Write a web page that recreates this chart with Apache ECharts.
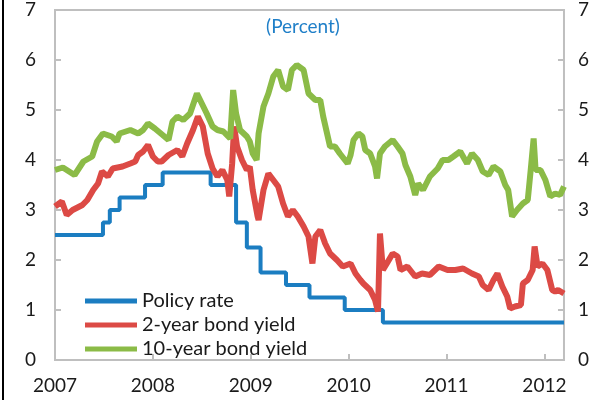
<!DOCTYPE html>
<html>
<head>
<meta charset="utf-8">
<script src="https://cdn.jsdelivr.net/npm/echarts@6/dist/echarts.min.js"></script>
<style>
  html, body { margin: 0; padding: 0; background: #fff; }
  #chart { width: 592px; height: 400px; }
</style>
</head>
<body>
<div id="chart"></div>
<script>
// decimal years + values
const policyYears = [2007.00, 2007.49, 2007.56, 2007.66, 2007.92, 2008.10, 2008.59, 2008.85, 2008.96, 2009.10, 2009.36, 2009.60, 2009.96, 2010.35, 2012.20];
const policyRate  = [2.5, 2.75, 3.0, 3.25, 3.5, 3.75, 3.5, 2.75, 2.25, 1.75, 1.5, 1.25, 1.0, 0.75, 0.75];

const twoYears = [2007.00, 2007.07, 2007.12, 2007.18, 2007.28, 2007.33, 2007.39, 2007.44, 2007.48, 2007.54,
  2007.59, 2007.69, 2007.77, 2007.82, 2007.85, 2007.90, 2007.95, 2007.97, 2008.00, 2008.05,
  2008.09, 2008.16, 2008.25, 2008.30, 2008.35, 2008.41, 2008.46, 2008.51, 2008.56, 2008.61,
  2008.66, 2008.71, 2008.76, 2008.78, 2008.81, 2008.83, 2008.86, 2008.91, 2008.96, 2008.99,
  2009.02, 2009.07, 2009.08, 2009.13, 2009.18, 2009.23, 2009.28, 2009.33, 2009.38, 2009.43,
  2009.48, 2009.54, 2009.59, 2009.63, 2009.66, 2009.71, 2009.76, 2009.81, 2009.88, 2009.94,
  2010.02, 2010.07, 2010.12, 2010.15, 2010.22, 2010.27, 2010.30, 2010.32, 2010.35, 2010.39,
  2010.45, 2010.50, 2010.53, 2010.60, 2010.68, 2010.75, 2010.83, 2010.92, 2011.01, 2011.09,
  2011.17, 2011.26, 2011.33, 2011.37, 2011.43, 2011.48, 2011.52, 2011.57, 2011.62, 2011.65,
  2011.70, 2011.76, 2011.78, 2011.83, 2011.88, 2011.90, 2011.93, 2011.98, 2012.03, 2012.08,
  2012.11, 2012.14, 2012.20];
const twoYield = [3.07, 3.17, 2.9, 3.0, 3.1, 3.2, 3.4, 3.53, 3.77, 3.67,
  3.83, 3.87, 3.93, 3.97, 4.1, 4.17, 4.3, 4.33, 4.07, 3.97,
  3.97, 4.1, 4.2, 4.07, 4.33, 4.6, 4.87, 4.67, 4.13, 3.83,
  3.67, 3.8, 3.6, 3.27, 3.93, 4.67, 4.27, 4.0, 3.8, 3.87,
  3.4, 2.87, 2.8, 3.4, 3.73, 3.6, 3.47, 3.13, 2.87, 3.0,
  2.87, 2.67, 2.47, 1.93, 2.47, 2.6, 2.33, 2.13, 2.0, 1.87,
  1.93, 1.73, 1.6, 1.53, 1.4, 1.2, 0.97, 2.53, 1.8, 1.93,
  2.13, 2.07, 1.8, 1.87, 1.67, 1.73, 1.7, 1.87, 1.8, 1.8,
  1.83, 1.73, 1.67, 1.5, 1.4, 1.6, 1.73, 1.47, 1.27, 1.03,
  1.07, 1.1, 1.53, 1.6, 1.8, 2.27, 1.87, 1.93, 1.8, 1.4,
  1.37, 1.4, 1.33];

const tenYears = [2007.00, 2007.08, 2007.20, 2007.29, 2007.38, 2007.43, 2007.49, 2007.58, 2007.63, 2007.66,
  2007.77, 2007.85, 2007.90, 2007.95, 2008.02, 2008.04, 2008.10, 2008.16, 2008.20, 2008.25,
  2008.31, 2008.38, 2008.45, 2008.50, 2008.55, 2008.61, 2008.66, 2008.72, 2008.79, 2008.82,
  2008.85, 2008.89, 2008.96, 2008.99, 2009.02, 2009.06, 2009.08, 2009.13, 2009.18, 2009.23,
  2009.28, 2009.33, 2009.38, 2009.42, 2009.47, 2009.54, 2009.59, 2009.66, 2009.71, 2009.74,
  2009.81, 2009.86, 2009.91, 2009.99, 2010.02, 2010.05, 2010.10, 2010.14, 2010.17, 2010.22,
  2010.27, 2010.29, 2010.32, 2010.37, 2010.45, 2010.50, 2010.55, 2010.58, 2010.63, 2010.68,
  2010.71, 2010.76, 2010.83, 2010.91, 2010.96, 2011.02, 2011.07, 2011.14, 2011.21, 2011.26,
  2011.32, 2011.37, 2011.43, 2011.48, 2011.55, 2011.60, 2011.63, 2011.67, 2011.72, 2011.78,
  2011.83, 2011.86, 2011.89, 2011.91, 2011.96, 2012.01, 2012.06, 2012.11, 2012.16, 2012.20];
const tenYield = [3.8, 3.85, 3.7, 3.97, 4.07, 4.37, 4.53, 4.47, 4.37, 4.53,
  4.6, 4.53, 4.6, 4.73, 4.63, 4.6, 4.5, 4.4, 4.77, 4.87,
  4.8, 4.93, 5.33, 5.13, 4.93, 4.67, 4.6, 4.57, 4.43, 5.4,
  4.93, 4.6, 4.47, 4.37, 4.13, 4.0, 4.53, 5.07, 5.33, 5.67,
  5.8, 5.47, 5.4, 5.8, 5.9, 5.8, 5.33, 5.2, 5.2, 4.87,
  4.27, 4.27, 4.13, 3.93, 4.1, 4.4, 4.53, 4.47, 4.2, 4.13,
  3.87, 3.63, 4.13, 4.27, 4.4, 4.27, 4.13, 3.9, 3.67, 3.3,
  3.53, 3.4, 3.67, 3.83, 4.0, 4.0, 4.07, 4.17, 3.93, 4.13,
  4.0, 3.77, 3.7, 3.87, 3.77, 3.5, 3.4, 2.87, 3.0, 3.13,
  3.2, 3.8, 4.43, 3.8, 3.8, 3.6, 3.27, 3.33, 3.3, 3.47];

const yTicks = [0, 1, 2, 3, 4, 5, 6, 7];

const pair = (xs, ys) => xs.map((x, i) => [x, ys[i]]);

const chart = echarts.init(document.getElementById('chart'));
const font = 'Lato, "Noto Sans", sans-serif';
const gridGray = '#bfbfbf';

const yAxisCommon = {
  type: 'value',
  min: yTicks[0],
  max: yTicks[yTicks.length - 1],
  interval: 1,
  splitLine: { show: false },
  axisLine: { show: false },
  axisTick: { show: true, inside: true, length: 6, lineStyle: { color: gridGray, width: 2 } },
  axisLabel: { color: '#1a1a1a', fontSize: 19, fontFamily: font }
};

chart.setOption({
  animation: false,
  grid: {
    left: 55, right: 28, top: 10, bottom: 40,
    show: true, borderColor: gridGray, borderWidth: 2, backgroundColor: 'transparent'
  },
  xAxis: {
    type: 'value',
    min: 2007,
    max: 2012.2,
    interval: 1,
    splitLine: { show: false },
    axisLine: { show: false },
    axisTick: { show: true, inside: true, length: 6, lineStyle: { color: gridGray, width: 2 } },
    axisLabel: {
      color: '#1a1a1a', fontSize: 19, fontFamily: font, margin: 16,
      showMaxLabel: false,
      formatter: v => (Number.isInteger(v) ? String(v) : '')
    }
  },
  yAxis: [
    Object.assign({}, yAxisCommon, { position: 'left', axisLabel: Object.assign({}, yAxisCommon.axisLabel, { margin: 19 }) }),
    Object.assign({}, yAxisCommon, { position: 'right', axisLabel: Object.assign({}, yAxisCommon.axisLabel, { margin: 14 }) })
  ],
  legend: {
    orient: 'vertical',
    left: 85,
    top: 291,
    padding: 0,
    icon: 'rect',
    itemWidth: 52,
    itemHeight: 5,
    itemGap: 4,
    textStyle: { color: '#1a1a1a', fontSize: 20, fontFamily: font, lineHeight: 20 },
    data: ['Policy rate', '2-year bond yield', '10-year bond yield']
  },
  graphic: [
    { type: 'text', x: 303, y: 17, style: { text: '(Percent)', fill: '#1f7fc8', font: '19px ' + font, textAlign: 'center' } },
    { type: 'line', shape: { x1: 3, y1: 0, x2: 3, y2: 400 }, style: { stroke: '#000', lineWidth: 2 } }
  ],
  series: [
    {
      name: 'Policy rate', type: 'line', step: 'end', showSymbol: false,
      color: '#1b7dc1', lineStyle: { width: 4 },
      data: pair(policyYears, policyRate)
    },
    {
      name: '2-year bond yield', type: 'line', showSymbol: false,
      color: '#dc4a45', lineStyle: { width: 6 },
      data: pair(twoYears, twoYield)
    },
    {
      name: '10-year bond yield', type: 'line', showSymbol: false,
      color: '#8bbb47', lineStyle: { width: 6 },
      data: pair(tenYears, tenYield)
    }
  ]
});
</script>
</body>
</html>
